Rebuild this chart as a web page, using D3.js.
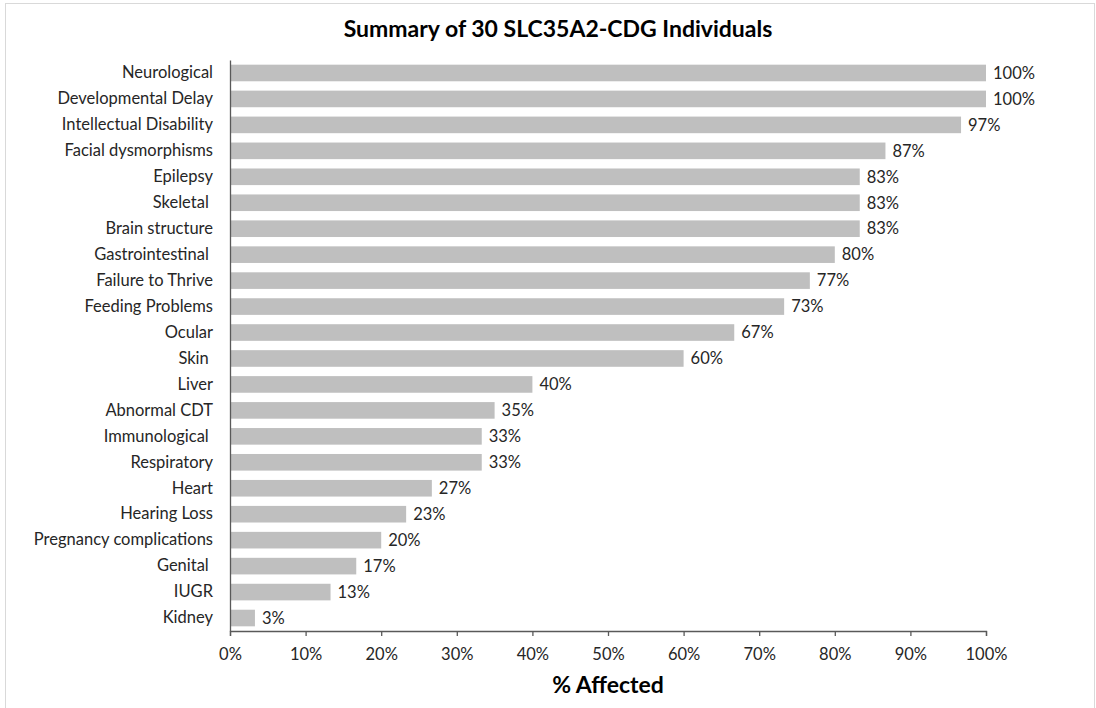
<!DOCTYPE html>
<html>
<head>
<meta charset="utf-8">
<script src="https://cdn.jsdelivr.net/npm/d3@7"></script>
<style>
  body { margin: 0; background: #fff; }
  svg text { font-family: Lato, "Open Sans", sans-serif; fill: #262626; white-space: pre; }
</style>
</head>
<body>
<div id="chart"></div>
<script>
// categories, top to bottom
const categories = ["Neurological", "Developmental Delay", "Intellectual Disability", "Facial dysmorphisms",
    "Epilepsy", "Skeletal ", "Brain structure", "Gastrointestinal ", "Failure to Thrive", "Feeding Problems",
    "Ocular", "Skin ", "Liver", "Abnormal CDT", "Immunological ", "Respiratory", "Heart", "Hearing Loss",
    "Pregnancy complications", "Genital ", "IUGR", "Kidney"];
// percent affected
const percentAffected = [100, 100, 96.7, 86.7, 83.3, 83.3, 83.3, 80, 76.7, 73.3, 66.7, 60, 40, 35, 33.3, 33.3,
    26.7, 23.3, 20, 16.7, 13.3, 3.3];
const xTicks = [0, 10, 20, 30, 40, 50, 60, 70, 80, 90, 100];

const width = 1096, height = 708;
const margin = {top: 60, right: 110, bottom: 77, left: 230};

const svg = d3.select("#chart").append("svg")
    .attr("width", width)
    .attr("height", height);

// outer frame
svg.append("rect")
    .attr("x", 5.5).attr("y", 3.5)
    .attr("width", 1089).attr("height", 710)
    .attr("fill", "none")
    .attr("stroke", "#d9d9d9");

svg.append("text")
    .attr("x", 558).attr("y", 37)
    .attr("text-anchor", "middle")
    .style("font-size", "23px")
    .style("font-weight", "bold")
    .style("fill", "#000")
    .text("Summary of 30 SLC35A2-CDG Individuals");

const x = d3.scaleLinear().domain([0, 100]).range([230, 986]);
const y = d3.scaleBand().domain(categories).range([margin.top, height - margin.bottom]).paddingInner(0.36).paddingOuter(0.18);

const data = categories.map((c, i) => ({name: c, value: percentAffected[i]}));

svg.append("g").selectAll("rect")
    .data(data)
    .enter()
    .append("rect")
    .attr("x", x(0))
    .attr("y", d => y(d.name))
    .attr("width", d => x(d.value) - x(0))
    .attr("height", y.bandwidth())
    .attr("fill", "#bfbfbf");

// value labels
svg.append("g").selectAll("text")
    .data(data)
    .enter()
    .append("text")
    .attr("x", d => x(d.value) + 7)
    .attr("y", d => y(d.name) + y.bandwidth() / 2)
    .attr("dy", "0.35em")
    .style("font-size", "16.5px")
    .text(d => Math.round(d.value) + "%");

// y axis
const yAxisG = svg.append("g")
    .attr("transform", `translate(${x(0)},0)`)
    .call(d3.axisLeft(y).tickSize(0).tickPadding(17));
yAxisG.select(".domain").attr("stroke", "#595959").attr("stroke-width", 1.3);
yAxisG.selectAll("text").style("font-size", "16.5px").style("font-family", "Lato, sans-serif").attr("fill", "#262626");

// x axis
const xAxisG = svg.append("g")
    .attr("transform", `translate(0,${height - margin.bottom})`)
    .call(d3.axisBottom(x).tickValues(xTicks).tickFormat(d => d + "%").tickSize(5).tickSizeOuter(5).tickPadding(12));
xAxisG.select(".domain").attr("stroke", "#595959").attr("stroke-width", 1.3);
xAxisG.selectAll(".tick line").attr("stroke", "#595959").attr("stroke-width", 1.3);
xAxisG.selectAll("text").style("font-size", "16.5px").style("font-family", "Lato, sans-serif").attr("fill", "#262626");

svg.append("text")
    .attr("x", 608).attr("y", 693)
    .attr("text-anchor", "middle")
    .style("font-size", "23px")
    .style("font-weight", "bold")
    .style("fill", "#000")
    .text("% Affected");
</script>
</body>
</html>
